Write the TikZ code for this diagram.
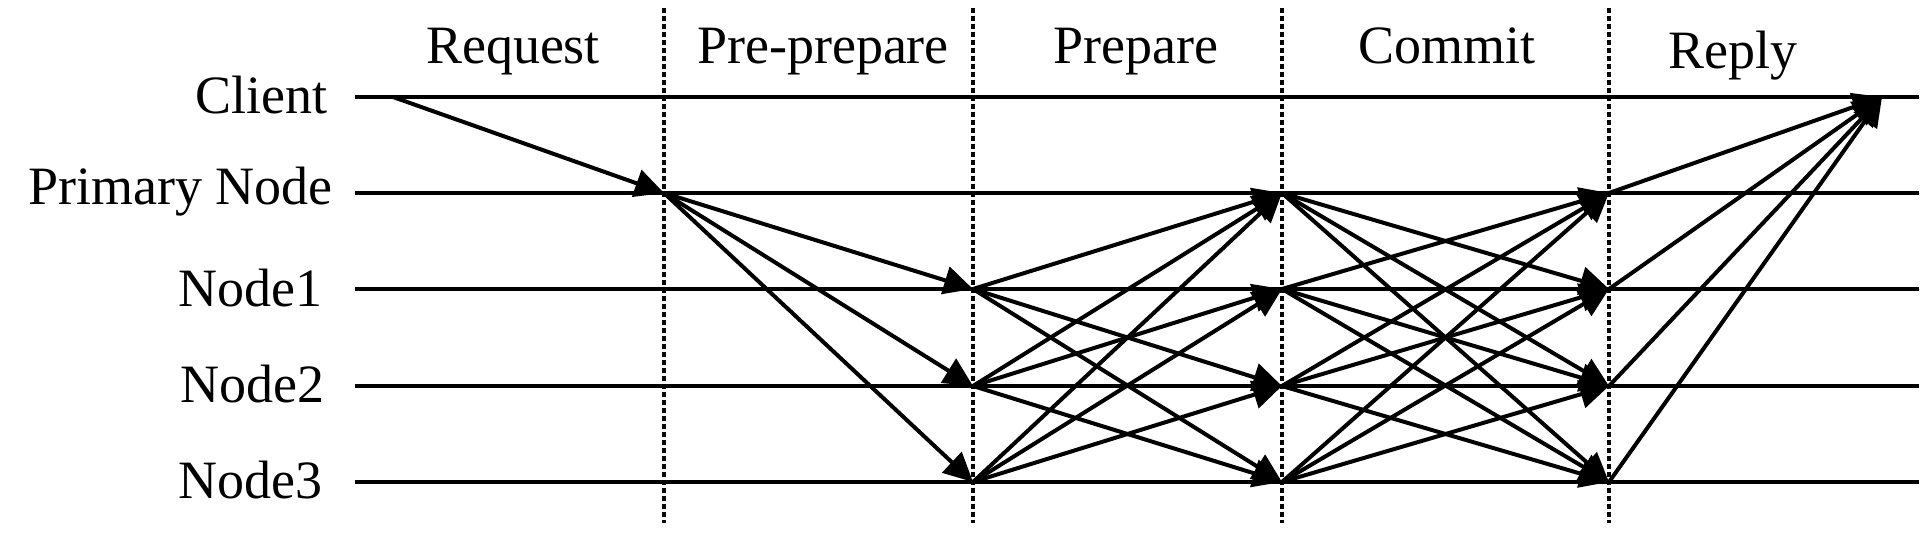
\documentclass[tikz,border=0pt]{standalone}
\usepackage{fontspec}
\setmainfont{Liberation Serif}
\usetikzlibrary{arrows.meta}
\begin{document}
\begin{tikzpicture}[x=1pt,y=-1pt,
  lane/.style={line width=4.2pt},
  phase/.style={line width=3.8pt, dash pattern=on 5pt off 3pt},
  msg/.style={line width=4pt, -{Triangle[length=29pt,width=28pt]}},
  lbl/.style={font=\fontsize{54}{60}\selectfont, inner sep=0pt}]
\useasboundingbox (0,0) rectangle (1925,538);
% lanes
\foreach \n/\y in {cl/97,pr/193,n1/289,n2/386,n3/482} {
  \coordinate (\n-s) at (355,\y);
  \coordinate (\n-e) at (1919,\y);
  \coordinate (\n-1) at (664,\y);
  \coordinate (\n-2) at (973,\y);
  \coordinate (\n-3) at (1282,\y);
  \coordinate (\n-4) at (1609,\y);
}
\coordinate (cl-0) at (393,97);
\coordinate (cl-r) at (1882,97);
\foreach \n in {cl,pr,n1,n2,n3} \draw[lane] (\n-s) -- (\n-e);
% phase separators
\foreach \i/\x in {1/664,2/973,3/1282,4/1609} {
  \coordinate (d\i-t) at (\x,8);
  \coordinate (d\i-b) at (\x,523);
  \draw[phase] (d\i-t) -- (d\i-b);
}
% lane labels
\node[lbl, anchor=base east] (lcl) at (328,113) {Client};
\node[lbl, anchor=base east] (lpr) at (333,204) {Primary Node};
\node[lbl, anchor=base east] (ln1) at (323,306) {Node1};
\node[lbl, anchor=base east] (ln2) at (325,402) {Node2};
\node[lbl, anchor=base east] (ln3) at (323,498) {Node3};
% phase labels
\node[lbl, anchor=base] (hreq) at (513,63) {Request};
\node[lbl, anchor=base] (hpre) at (823,63) {Pre-prepare};
\node[lbl, anchor=base] (hprep) at (1136,63) {Prepare};
\node[lbl, anchor=base] (hcom) at (1447,63) {Commit};
\node[lbl, anchor=base] (hrep) at (1733,68) {Reply};
% request
\draw[msg] (cl-0) -- (pr-1);
% pre-prepare
\foreach \t in {n1,n2,n3} \draw[msg] (pr-1) -- (\t-2);
% prepare
\foreach \s/\t in {n1/pr,n1/n2,n1/n3,n2/pr,n2/n1,n2/n3,n3/pr,n3/n1,n3/n2}
  \draw[msg] (\s-2) -- (\t-3);
% commit
\foreach \s/\t in {pr/n1,pr/n2,pr/n3,n1/pr,n1/n2,n1/n3,n2/pr,n2/n1,n2/n3,n3/pr,n3/n1,n3/n2}
  \draw[msg] (\s-3) -- (\t-4);
% reply
\foreach \s in {pr,n1,n2,n3} \draw[msg] (\s-4) -- (cl-r);
\end{tikzpicture}
\end{document}
